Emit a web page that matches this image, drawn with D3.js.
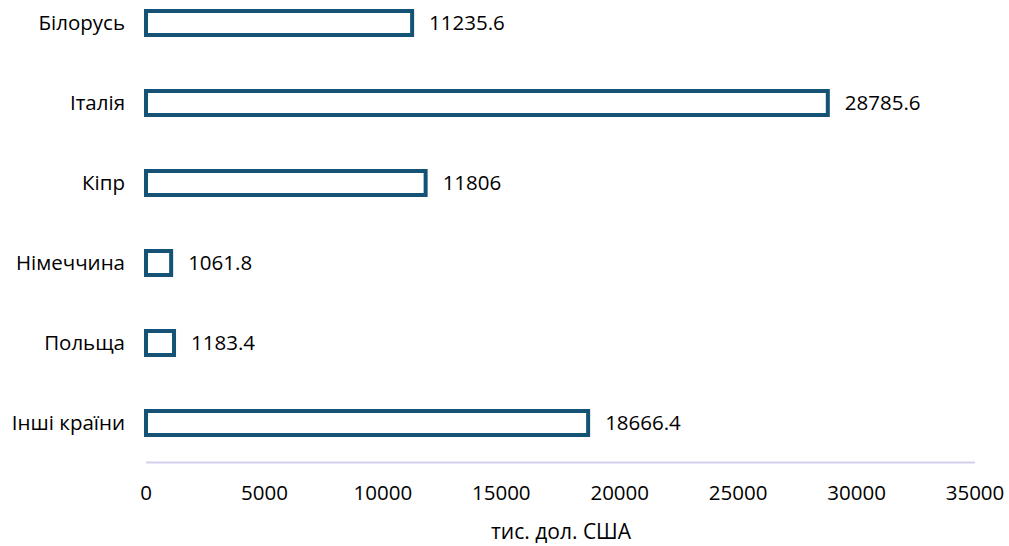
<!DOCTYPE html>
<html>
<head>
<meta charset="utf-8">
<script src="https://cdn.jsdelivr.net/npm/d3@7"></script>
<style>
body { margin: 0; background: #fff; }
text { font-family: "Open Sans", "Noto Sans", sans-serif; fill: #000; }
</style>
</head>
<body>
<script>
// countries and values (тис. дол. США)
var countries = ["Білорусь", "Італія", "Кіпр", "Німеччина", "Польща", "Інші країни"];
var values = [11235.6, 28785.6, 11806, 1061.8, 1183.4, 18666.4];
var ticks = [0, 5000, 10000, 15000, 20000, 25000, 30000, 35000];
var axisTitle = "тис. дол. США";

var width = 1009, height = 546;
var barColor = "#145276";

var svg = d3.select("body").append("svg")
    .attr("width", width)
    .attr("height", height);

var x = d3.scaleLinear()
    .domain([0, 35000])
    .range([146, 975]);

var y = d3.scaleBand()
    .domain(countries)
    .range([-17, 463])
    .paddingInner(0.7)
    .paddingOuter(0.35);

// axis line
svg.append("line")
    .attr("x1", x(0))
    .attr("x2", x(35000))
    .attr("y1", 462.5)
    .attr("y2", 462.5)
    .attr("stroke", "#d3cfee")
    .attr("stroke-width", 2);

// bars (outline only)
svg.selectAll("rect.bar")
    .data(values)
    .enter()
    .append("rect")
    .attr("class", "bar")
    .attr("x", x(0))
    .attr("y", function(d, i) { return y(countries[i]); })
    .attr("width", function(d) { return x(d) - x(0); })
    .attr("height", y.bandwidth())
    .attr("fill", "#fff")
    .attr("stroke", barColor)
    .attr("stroke-width", 4);

// value labels
svg.selectAll("text.val")
    .data(values)
    .enter()
    .append("text")
    .attr("class", "val")
    .attr("x", function(d) { return x(d) + 17; })
    .attr("y", function(d, i) { return y(countries[i]) + y.bandwidth() / 2; })
    .attr("dy", "0.35em")
    .attr("font-size", "20.5px")
    .text(function(d) { return d; });

// category labels
svg.selectAll("text.cat")
    .data(countries)
    .enter()
    .append("text")
    .attr("class", "cat")
    .attr("x", 125)
    .attr("y", function(d) { return y(d) + y.bandwidth() / 2; })
    .attr("dy", "0.35em")
    .attr("text-anchor", "end")
    .attr("font-size", "20.5px")
    .text(function(d) { return d; });

// tick labels
svg.selectAll("text.tick")
    .data(ticks)
    .enter()
    .append("text")
    .attr("class", "tick")
    .attr("x", function(d) { return x(d); })
    .attr("y", 500)
    .attr("text-anchor", "middle")
    .attr("font-size", "20.5px")
    .text(function(d) { return d; });

svg.append("text")
    .attr("x", 561)
    .attr("y", 539)
    .attr("text-anchor", "middle")
    .attr("font-size", "21px")
    .text(axisTitle);
</script>
</body>
</html>
